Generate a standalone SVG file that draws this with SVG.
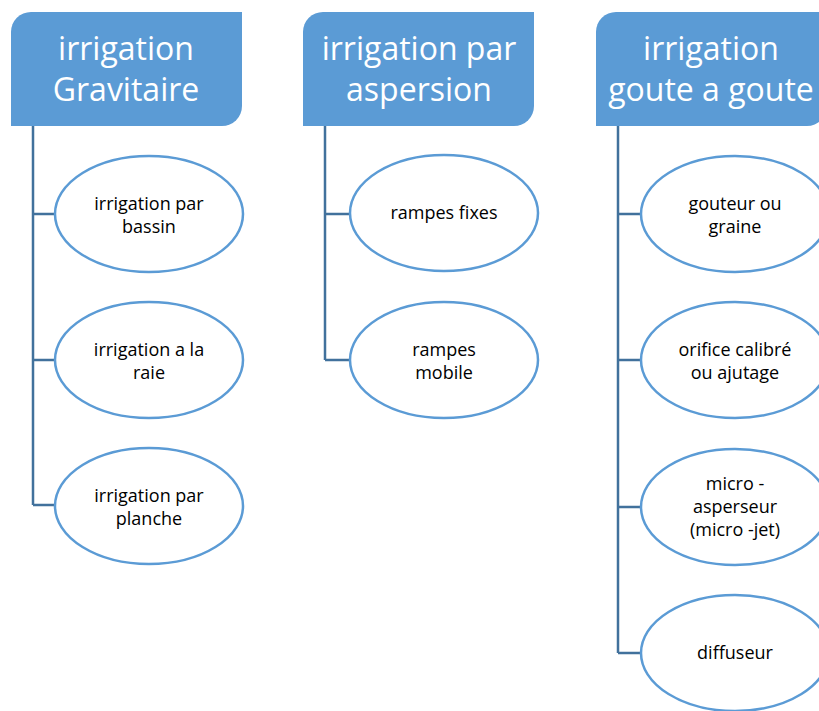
<svg xmlns="http://www.w3.org/2000/svg" width="819" height="711" viewBox="0 0 819 711">
  <style>
    .hdr { fill: #5B9BD5; }
    .hdr-t { fill: #ffffff; font-family: "Open Sans", "Liberation Sans", sans-serif; font-size: 32px; text-anchor: middle; }
    .leaf { fill: #ffffff; stroke: #5B9BD5; stroke-width: 2.5; }
    .leaf-t { fill: #000000; font-family: "Open Sans", "Liberation Sans", sans-serif; font-size: 18px; text-anchor: middle; }
    .conn { fill: none; stroke: #41719C; stroke-width: 2.5; }
  </style>
  <defs>
    <!-- rectangle with rounded top-left and bottom-right corners, 231 x 114 -->
    <path id="hdrShape" d="M0,20 A20,20 0 0 1 20,0 H231 V94 A20,20 0 0 1 211,114 H0 Z"/>
  </defs>
  <rect width="819" height="711" fill="#ffffff"/>

  <g id="connectors">
    <path class="conn" d="M33,126 V505 M33,214 H56 M33,360 H56 M33,505 H56"/>
    <path class="conn" d="M325,126 V360 M325,214 H351 M325,360 H351"/>
    <path class="conn" d="M618,126 V653 M618,214 H642 M618,360 H642 M618,507 H642 M618,653 H642"/>
  </g>

  <g id="h1">
    <use href="#hdrShape" class="hdr" x="11" y="12"/>
    <text class="hdr-t" x="126" y="60">irrigation</text>
    <text class="hdr-t" x="126" y="101">Gravitaire</text>
  </g>
  <g id="h2">
    <use href="#hdrShape" class="hdr" x="303" y="12"/>
    <text class="hdr-t" x="419" y="60">irrigation par</text>
    <text class="hdr-t" x="419" y="101">aspersion</text>
  </g>
  <g id="h3">
    <use href="#hdrShape" class="hdr" x="596" y="12"/>
    <text class="hdr-t" x="711" y="60">irrigation</text>
    <text class="hdr-t" x="711" y="101">goute a goute</text>
  </g>

  <g id="n1a">
    <ellipse class="leaf" cx="149" cy="214" rx="94" ry="58"/>
    <text class="leaf-t" x="149" y="210">irrigation par</text>
    <text class="leaf-t" x="149" y="233">bassin</text>
  </g>
  <g id="n1b">
    <ellipse class="leaf" cx="149" cy="360" rx="94" ry="58"/>
    <text class="leaf-t" x="149" y="356">irrigation a la</text>
    <text class="leaf-t" x="149" y="379">raie</text>
  </g>
  <g id="n1c">
    <ellipse class="leaf" cx="149" cy="506" rx="94" ry="58"/>
    <text class="leaf-t" x="149" y="502">irrigation par</text>
    <text class="leaf-t" x="149" y="525">planche</text>
  </g>

  <g id="n2a">
    <ellipse class="leaf" cx="444" cy="213" rx="94" ry="58"/>
    <text class="leaf-t" x="444" y="219">rampes fixes</text>
  </g>
  <g id="n2b">
    <ellipse class="leaf" cx="444" cy="360" rx="94" ry="58"/>
    <text class="leaf-t" x="444" y="356">rampes</text>
    <text class="leaf-t" x="444" y="379">mobile</text>
  </g>

  <g id="n3a">
    <ellipse class="leaf" cx="735" cy="214" rx="94" ry="58"/>
    <text class="leaf-t" x="735" y="210">gouteur ou</text>
    <text class="leaf-t" x="735" y="233">graine</text>
  </g>
  <g id="n3b">
    <ellipse class="leaf" cx="735" cy="360" rx="94" ry="58"/>
    <text class="leaf-t" x="735" y="356">orifice calibré</text>
    <text class="leaf-t" x="735" y="379">ou ajutage</text>
  </g>
  <g id="n3c">
    <ellipse class="leaf" cx="735" cy="507" rx="94" ry="58"/>
    <text class="leaf-t" x="735" y="490">micro -</text>
    <text class="leaf-t" x="735" y="513">asperseur</text>
    <text class="leaf-t" x="735" y="536">(micro -jet)</text>
  </g>
  <g id="n3d">
    <ellipse class="leaf" cx="735" cy="653" rx="94" ry="58"/>
    <text class="leaf-t" x="735" y="659">diffuseur</text>
  </g>
</svg>
